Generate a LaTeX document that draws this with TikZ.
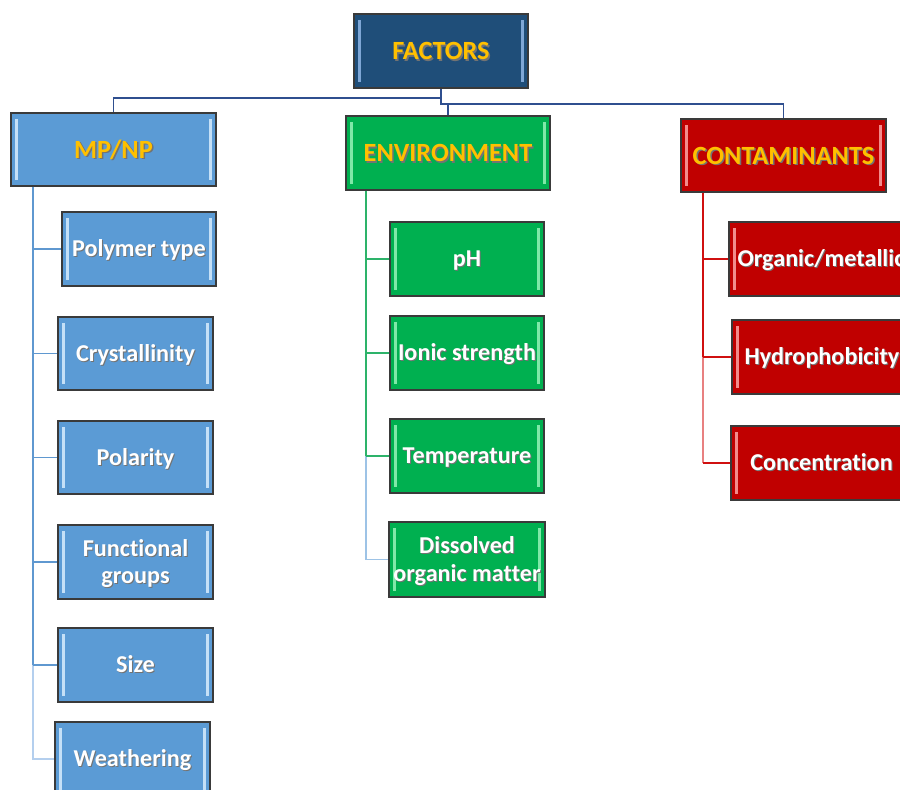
\documentclass[tikz,border=0pt]{standalone}
\usepackage{fontspec}
\setmainfont{Carlito}[Ligatures={NoCommon}]
\definecolor{navy}{HTML}{1F4E79}
\definecolor{navyl}{HTML}{7FA7D6}
\definecolor{navyline}{HTML}{2F4F8F}
\definecolor{mpblue}{HTML}{5B9BD5}
\definecolor{mpbluel}{HTML}{C5E0F7}
\definecolor{mpline}{HTML}{5F98D0}
\definecolor{mppale}{HTML}{B4CFEE}
\definecolor{envgreen}{HTML}{00B050}
\definecolor{envgreenl}{HTML}{80E8A8}
\definecolor{envline}{HTML}{2DB36A}
\definecolor{envpale}{HTML}{9DC3E6}
\definecolor{conred}{HTML}{C00000}
\definecolor{conredl}{HTML}{F28C8C}
\definecolor{conline}{HTML}{D01010}
\definecolor{conpale}{HTML}{E88080}
\definecolor{gold}{HTML}{FFC000}
\definecolor{boxline}{HTML}{3A3A3A}
\newcommand\shtxt[3]{\leavevmode\rlap{\hspace{#3}\raisebox{-#3}{\color{black!55}#2}}\textcolor{#1}{#2}}
\tikzset{
  box/.style={draw=boxline, line width=1.3pt, inner sep=0pt, align=center,
    font=\bfseries\fontsize{24.2}{26}\selectfont},
  hdr/.style={box, font=\bfseries\fontsize{26.3}{28}\selectfont},
  bevel/.style={path picture={
    \fill[#1] ([xshift=4pt,yshift=6pt]path picture bounding box.south west) rectangle ([xshift=7pt,yshift=-6pt]path picture bounding box.north west);
    \fill[#1] ([xshift=-7pt,yshift=6pt]path picture bounding box.south east) rectangle ([xshift=-4pt,yshift=-6pt]path picture bounding box.north east);
  }},
  navybox/.style={hdr, fill=navy, bevel=navyl},
  bluebox/.style={box, fill=mpblue, bevel=mpbluel},
  greenbox/.style={box, fill=envgreen, bevel=envgreenl},
  redbox/.style={box, fill=conred, bevel=conredl},
  topline/.style={draw=navyline, line width=1.5pt},
  cline/.style={line width=1.8pt},
}
\newcommand\wt[1]{\rule[-5.5pt]{0pt}{26.5pt}\shtxt{white}{#1}{1pt}}
\newcommand\gt[1]{\rule[-6pt]{0pt}{29pt}\shtxt{gold}{#1}{1.5pt}}
\begin{document}
\begin{tikzpicture}[x=1pt,y=-1pt]
\useasboundingbox (0,0) rectangle (900,790);
\clip (0,0) rectangle (900,790);

% helper coordinates
\coordinate (jl) at (0,98);
\coordinate (jr) at (0,104);
\coordinate (tmp) at (33,0);
\coordinate (tenv) at (366,0);
\coordinate (tcon) at (703,0);

% top level
\node[navybox, minimum width=174, minimum height=74] (factors) at (441,51) {\gt{FACTORS}};
\node[hdr, fill=mpblue, bevel=mpbluel, minimum width=205, minimum height=73] (mpnp) at (113.5,149.5) {\gt{MP/NP}};
\node[hdr, fill=envgreen, bevel=envgreenl, minimum width=204, minimum height=74] (env) at (448,153) {\gt{ENVIRONMENT}};
\node[hdr, fill=conred, bevel=conredl, minimum width=205, minimum height=73] (cont) at (783.5,155.5) {\gt{CONTAMINANTS}};

% MP/NP children
\node[bluebox, minimum width=154, minimum height=74] (poly) at (139,249) {\wt{Polymer type}};
\node[bluebox, minimum width=155, minimum height=73] (cryst) at (135.5,353.5) {\wt{Crystallinity}};
\node[bluebox, minimum width=155, minimum height=73] (polar) at (135.5,457.5) {\wt{Polarity}};
\node[bluebox, minimum width=155, minimum height=74] (func) at (135.5,562) {\wt{Functional}\\\wt{groups}};
\node[bluebox, minimum width=155, minimum height=74] (size) at (135.5,665) {\wt{Size}};
\node[bluebox, minimum width=155, minimum height=74] (weath) at (132.5,759) {\wt{Weathering}};

% Environment children
\node[greenbox, minimum width=154, minimum height=74] (ph) at (467,259) {\wt{pH}};
\node[greenbox, minimum width=154, minimum height=74] (ionic) at (467,353) {\wt{Ionic strength}};
\node[greenbox, minimum width=154, minimum height=74] (temp) at (467,456) {\wt{Temperature}};
\node[greenbox, minimum width=156, minimum height=75] (dom) at (467,559.5) {\wt{Dissolved}\\\wt{organic matter}};

% Contaminant children
\node[redbox, minimum width=184, minimum height=74] (org) at (821,259) {\wt{Organic/metallic}};
\node[redbox, minimum width=180, minimum height=74] (hydro) at (822,357) {\wt{Hydrophobicity}};
\node[redbox, minimum width=181, minimum height=74] (conc) at (821.5,463) {\wt{Concentration}};

% top connectors
\draw[topline] (factors.south) -- (factors.south |- jl) -| (mpnp.north);
\draw[topline] (factors.south |- jl) -- (factors.south |- jr) -- (env.north |- jr) -- (env.north);
\draw[topline] (env.north |- jr) -| (cont.north);

% MP/NP branch
\draw[cline, mpline] (mpnp.south -| tmp) -- (size.west -| tmp);
\draw[cline, mppale] (size.west -| tmp) -- (weath.west -| tmp) -- (weath.west);
\foreach \n in {poly,cryst,polar,func,size}
  \draw[cline, mpline] (\n.west -| tmp) -- (\n.west);

% Environment branch
\draw[cline, envline] (env.south -| tenv) -- (temp.west -| tenv);
\draw[cline, envpale] (temp.west -| tenv) -- (dom.west -| tenv) -- (dom.west);
\foreach \n in {ph,ionic,temp}
  \draw[cline, envline] (\n.west -| tenv) -- (\n.west);

% Contaminants branch
\draw[cline, conline] (cont.south -| tcon) -- (hydro.west -| tcon);
\draw[cline, conpale] (hydro.west -| tcon) -- (conc.west -| tcon);
\draw[cline, conline] (conc.west -| tcon) -- (conc.west);
\foreach \n in {org,hydro}
  \draw[cline, conline] (\n.west -| tcon) -- (\n.west);
\end{tikzpicture}
\end{document}
